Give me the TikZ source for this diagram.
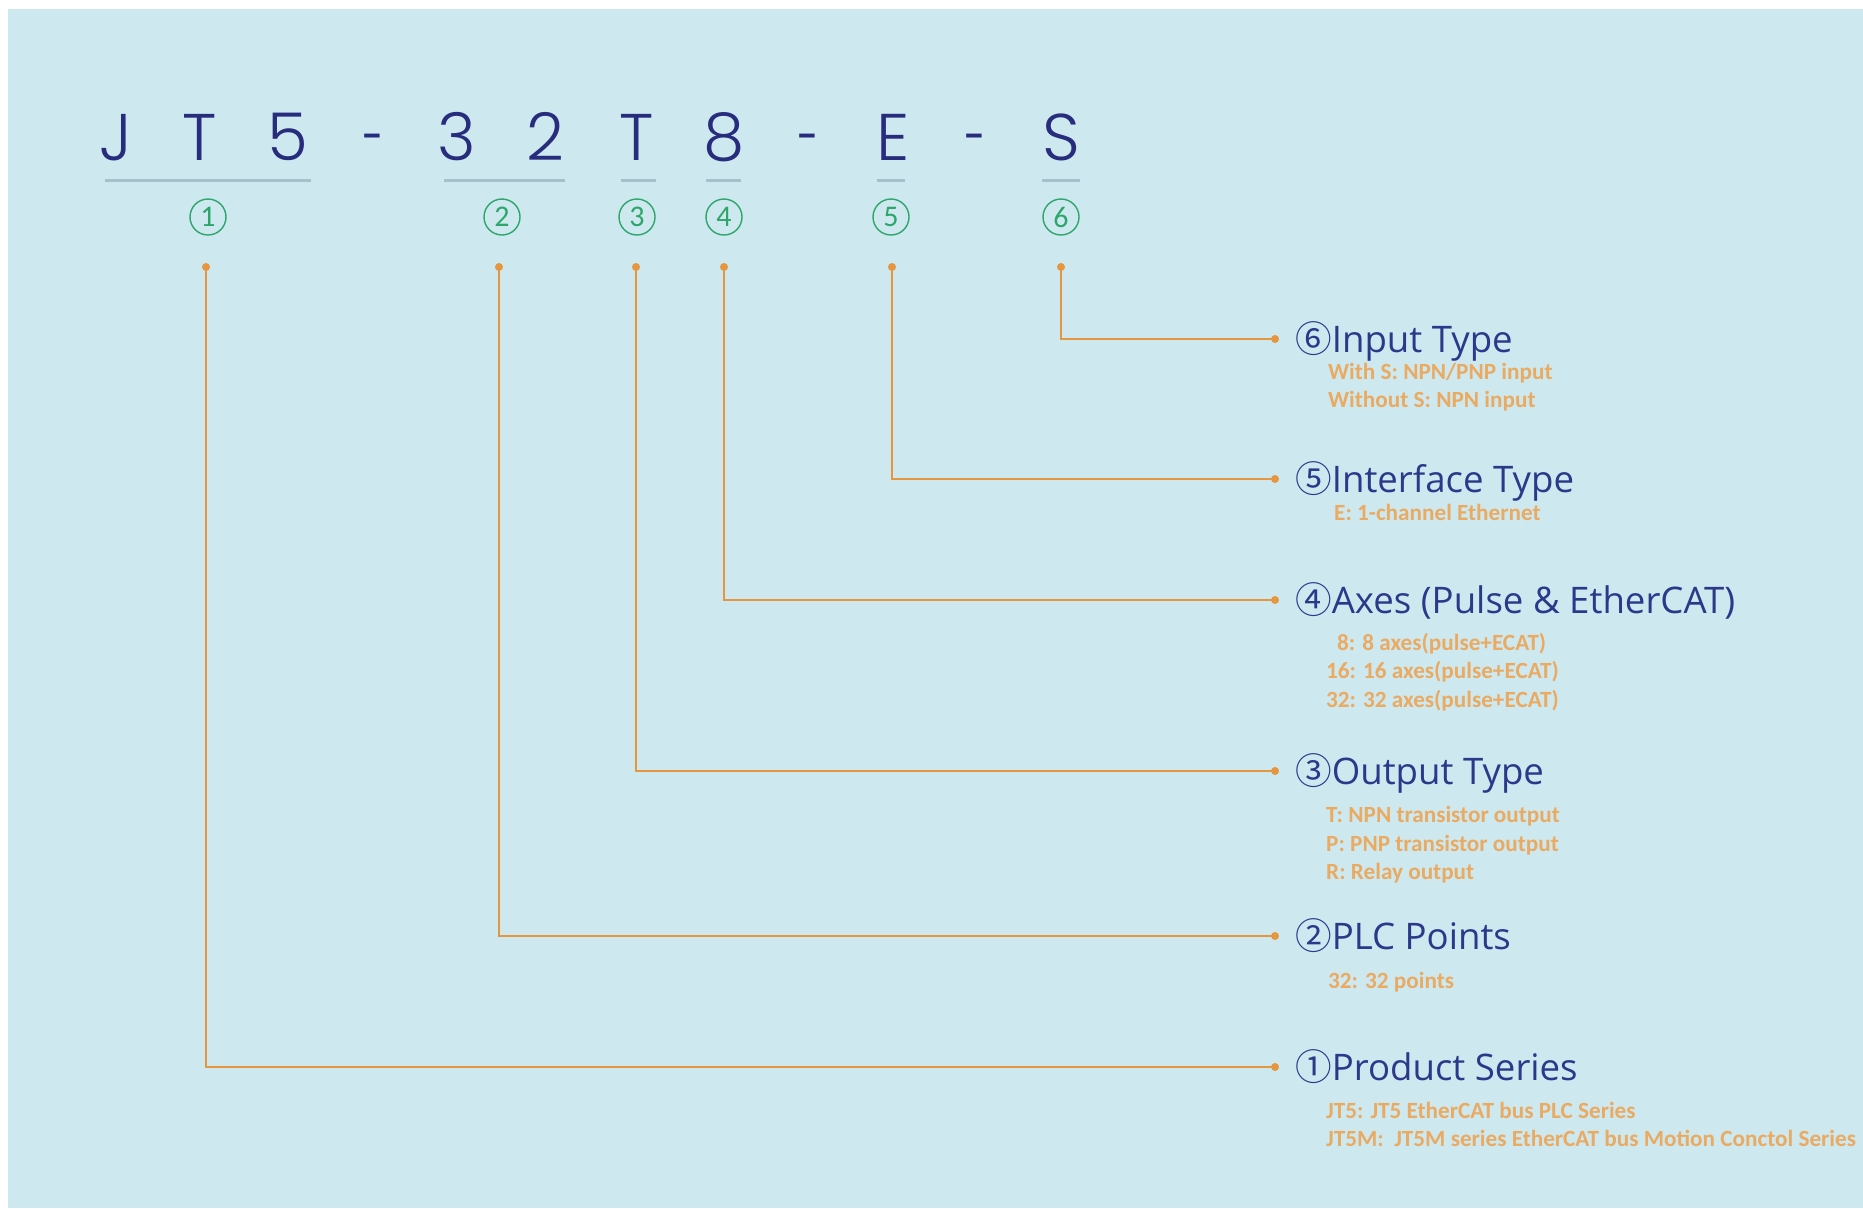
\documentclass[tikz,border=0pt]{standalone}
\usepackage{fontspec}
\setmainfont{Carlito}
\newfontfamily\codefont{Poppins Light}
\newfontfamily\headfont{Open Sans}
\newfontfamily\circfont{Noto Sans CJK SC}

\definecolor{pagebg}{RGB}{205,233,239}
\definecolor{codenavy}{RGB}{40,44,124}
\definecolor{headnavy}{RGB}{44,56,138}
\definecolor{barblue}{RGB}{168,192,204}
\definecolor{badgegreen}{RGB}{44,166,106}
\definecolor{leadorange}{RGB}{230,150,62}
\definecolor{noteorange}{RGB}{234,170,98}

\newcommand{\dashglyph}{\scalebox{0.6}[1]{-}}

\begin{document}
\begin{tikzpicture}[x=1pt,y=-1pt,
  letter/.style={font=\codefont\fontsize{66}{70}\selectfont, text=codenavy, inner sep=0pt, anchor=base},
  bar/.style={draw=barblue, line width=3pt},
  badge/.style={circle, draw=badgegreen, line width=1.4pt, text=badgegreen, minimum size=36pt, inner sep=0pt, font=\fontsize{30}{30}\selectfont},
  lead/.style={draw=leadorange, line width=2.2pt},
  pin/.style={fill=leadorange},
  head/.style={anchor=base west, inner sep=0pt, text=headnavy, font=\headfont\fontsize{36.6}{37}\selectfont},
  note/.style={anchor=base west, inner sep=0pt, text=noteorange, font=\bfseries\fontsize{23.2}{23}\selectfont}
]
% page and panel
\useasboundingbox (0,0) rectangle (1863,1208);
\fill[white] (0,0) rectangle (1863,1208);
\fill[pagebg] (8,9) rectangle (1863,1208);

% model code
\node[letter] (c1)  at (116,160) {J};
\node[letter] (c2)  at (200,160) {T};
\node[letter] (c3)  at (288,160) {5};
\node[letter] (c4)  at (374,160) {\dashglyph};
\node[letter] (c5)  at (457,160) {3};
\node[letter] (c6)  at (545,160) {2};
\node[letter] (c7)  at (637,160) {T};
\node[letter] (c8)  at (724,160) {8};
\node[letter] (c9)  at (809,160) {\dashglyph};
\node[letter] (c10) at (893,160) {E};
\node[letter] (c11) at (976,160) {\dashglyph};
\node[letter] (c12) at (1061,160) {S};

% segment underlines
\draw[bar] (105,180) -- (311,180);
\draw[bar] (444,180) -- (565,180);
\draw[bar] (621,180) -- (656,180);
\draw[bar] (706,180) -- (741,180);
\draw[bar] (877,180) -- (905,180);
\draw[bar] (1042,180) -- (1080,180);

% segment badges
\node[badge] (b1) at (208,217) {1};
\node[badge] (b2) at (502,217) {2};
\node[badge] (b3) at (637,217) {3};
\node[badge] (b4) at (724,217) {4};
\node[badge] (b5) at (891,217) {5};
\node[badge] (b6) at (1061,217) {6};

% field headings
\node[head] (h6) at (1295,352)  {{\circfont ⑥}Input Type};
\node[head] (h5) at (1295,492)  {{\circfont ⑤}Interface Type};
\node[head] (h4) at (1295,613)  {{\circfont ④}Axes (Pulse \& EtherCAT)};
\node[head] (h3) at (1295,784)  {{\circfont ③}Output Type};
\node[head] (h2) at (1295,949)  {{\circfont ②}PLC Points};
\node[head] (h1) at (1295,1080) {{\circfont ①}Product Series};

% field notes
\node[note] (n6a) at (1328,379)  {With S: NPN/PNP input};
\node[note] (n6b) at (1328,407)  {Without S: NPN input};
\node[note] (n5a) at (1334,520)  {E: 1-channel Ethernet};
\node[note] (n4a) at (1337,650)  {8: 8 axes(pulse+ECAT)};
\node[note] (n4b) at (1326,678)  {16: 16 axes(pulse+ECAT)};
\node[note] (n4c) at (1326,707)  {32: 32 axes(pulse+ECAT)};
\node[note] (n3a) at (1326,822)  {T: NPN transistor output};
\node[note] (n3b) at (1326,851)  {P: PNP transistor output};
\node[note] (n3c) at (1326,879)  {R: Relay output};
\node[note] (n2a) at (1328,988)  {32: 32 points};
\node[note] (n1a) at (1326,1118) {JT5: JT5 EtherCAT bus PLC Series};
\node[note] (n1b) at (1326,1146) {JT5M:\ \ JT5M series EtherCAT bus Motion Conctol Series};

% leader lines
\coordinate (t1) at (206,267);  \coordinate (e1) at (1275,1067);
\coordinate (t2) at (499,267);  \coordinate (e2) at (1275,936);
\coordinate (t3) at (636,267);  \coordinate (e3) at (1275,771);
\coordinate (t4) at (724,267);  \coordinate (e4) at (1275,600);
\coordinate (t5) at (892,267);  \coordinate (e5) at (1275,479);
\coordinate (t6) at (1061,267); \coordinate (e6) at (1275,339);
\foreach \i in {1,...,6}{
  \draw[lead] (t\i) |- (e\i);
  \fill[pin] (t\i) circle (4);
  \fill[pin] (e\i) circle (4);
}
\end{tikzpicture}
\end{document}
